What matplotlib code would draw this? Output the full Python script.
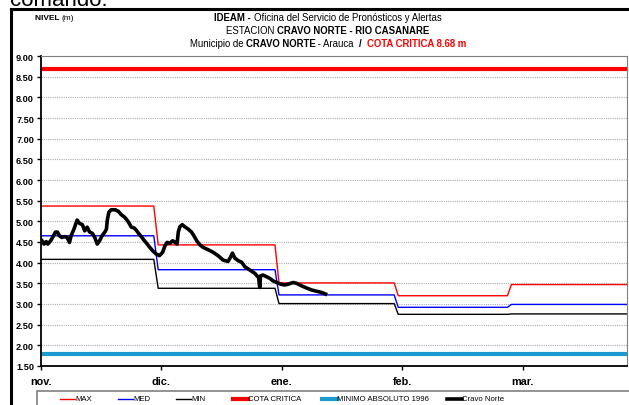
import matplotlib
matplotlib.use("Agg")
import matplotlib.pyplot as plt
from matplotlib.lines import Line2D
from matplotlib.patches import Rectangle

plt.rcParams['font.family'] = ['Liberation Sans', 'DejaVu Sans']

# niveles historicos por mes (escalones)
dias_esc = [0, 28.1, 29.2, 58.3, 59.3, 88.0, 89.0, 116.2, 117.2, 146]
nivel_max = [5.37, 5.37, 4.43, 4.43, 3.51, 3.51, 3.20, 3.20, 3.47, 3.47]
nivel_med = [4.65, 4.65, 3.83, 3.83, 3.22, 3.22, 2.92, 2.92, 2.99, 2.99]
nivel_min = [4.08, 4.08, 3.38, 3.38, 3.01, 3.01, 2.75, 2.75, 2.76, 2.76]
cota_critica = 8.68
minimo_1996 = 1.80

# serie observada Cravo Norte
dias_obs = [0.25, 0.75, 1.3, 1.7, 2.4, 3.0, 3.6, 4.1, 4.6, 5.2, 5.9, 6.5, 7.1, 7.5, 8.2,
            9.0, 9.6, 10.3, 10.9, 11.5, 12.1, 12.8, 13.4, 14.0, 14.6, 15.2, 15.9, 16.3,
            16.5, 16.9, 17.5, 18.5, 19.3, 20.0, 20.7, 21.2, 21.8, 22.5, 23.2, 23.7, 24.3,
            25.0, 25.6, 26.3, 27.1, 27.9, 28.7, 29.5, 30.3, 30.9, 31.4, 32.1, 32.8, 33.4,
            33.9, 34.2, 34.6, 35.2, 35.8, 36.7, 37.5, 38.1, 38.8, 39.6, 40.4, 41.7, 42.9,
            44.1, 45.4, 46.6, 47.2, 47.7, 48.3, 49.1, 50.0, 50.8, 51.6, 52.5, 53.3, 53.8,
            54.2, 54.5, 54.7, 55.3, 56.2, 57.0, 57.8, 58.7, 59.7, 60.7, 61.6, 62.8, 63.7,
            64.9, 66.1, 67.4, 68.6, 69.9, 70.9]
nivel_obs = [4.53, 4.45, 4.51, 4.45, 4.53, 4.63, 4.74, 4.74, 4.65, 4.61, 4.63, 4.61, 4.49,
             4.65, 4.81, 5.03, 4.95, 4.92, 4.77, 4.86, 4.74, 4.71, 4.61, 4.45, 4.53, 4.65,
             4.74, 4.81, 5.02, 5.22, 5.28, 5.28, 5.24, 5.16, 5.11, 5.06, 4.98, 4.86, 4.84,
             4.79, 4.71, 4.63, 4.55, 4.47, 4.37, 4.28, 4.21, 4.17, 4.25, 4.41, 4.49, 4.47,
             4.53, 4.49, 4.45, 4.74, 4.87, 4.92, 4.87, 4.81, 4.74, 4.65, 4.53, 4.43, 4.37,
             4.31, 4.25, 4.17, 4.06, 4.03, 4.13, 4.23, 4.11, 4.05, 4.01, 3.90, 3.85, 3.79,
             3.74, 3.68, 3.65, 3.40, 3.68, 3.70, 3.66, 3.62, 3.56, 3.52, 3.48, 3.46, 3.48,
             3.52, 3.50, 3.44, 3.39, 3.34, 3.31, 3.28, 3.24]

meses = ['nov.', 'dic.', 'ene.', 'feb.', 'mar.']
dias_meses = [0, 30, 60, 90, 120]

W, H = 629, 406
fig = plt.figure(figsize=(W / 100, H / 100), dpi=100)
ax = fig.add_axes([41 / W, 39 / H, 586 / W, 310 / H])

l_max, = ax.plot(dias_esc, nivel_max, color='#ff0000', lw=1, label='MAX')
l_med, = ax.plot(dias_esc, nivel_med, color='#0000ff', lw=1, label='MED')
l_min, = ax.plot(dias_esc, nivel_min, color='#000000', lw=1, label='MIN')
l_cota = ax.axhline(cota_critica, color='#ff0000', lw=3, label='COTA CRITICA')
l_abs = ax.axhline(minimo_1996, color='#1a9bd0', lw=3, label='MINIMO ABSOLUTO 1996')
l_obs, = ax.plot(dias_obs, nivel_obs, color='black', lw=2.6, label='Cravo Norte',
                 solid_joinstyle='round')

ax.set_xlim(0, 146)
ax.set_ylim(1.5, 9.0)
ax.set_yticks([1.5 + 0.5 * i for i in range(16)])
ax.set_yticklabels(['%.2f' % (1.5 + 0.5 * i) for i in range(16)])
ax.set_xticks(dias_meses)
ax.set_xticklabels(meses)
ax.grid(axis='y', color='#b0b0b0', lw=0.8, ls=(0, (1, 1)))
ax.set_axisbelow(True)
ax.tick_params(axis='y', labelsize=6.6, length=3, width=1, pad=2)
ax.tick_params(axis='x', labelsize=7.8, length=3, width=1, pad=4)
for lab in ax.get_yticklabels() + ax.get_xticklabels():
    lab.set_fontweight('bold')
ax.spines['left'].set_linewidth(1.3)
ax.spines['bottom'].set_linewidth(1.3)
ax.spines['top'].set_color('#808080')
ax.spines['right'].set_color('#808080')
ax.spines['top'].set_linewidth(0.8)
ax.spines['right'].set_linewidth(0.8)

# marco exterior
fig.add_artist(Line2D([11 / W, 11 / W], [0, 1 - 10 / H], color='black', lw=2.2))
fig.add_artist(Line2D([11 / W, 1], [1 - 10 / H, 1 - 10 / H], color='black', lw=2.2))
fig.text(10 / W, 1 - 6 / H, 'comando.', fontsize=16, va='baseline', ha='left')

renderer = fig.canvas.get_renderer()


def fila(x, y, partes, size, centrado=True):
    # texto en una sola linea con partes en negrita o en color
    objs = []
    for txt, peso, color in partes:
        objs.append(fig.text(0, y, txt, fontsize=size, fontweight=peso, color=color,
                             va='center', ha='left'))
    anchos = [o.get_window_extent(renderer).width / W for o in objs]
    if centrado:
        x = x - sum(anchos) / 2
    for o, w in zip(objs, anchos):
        o.set_x(x)
        x += w


fila(328 / W, 1 - 18 / H, [('IDEAM - ', 'bold', 'black'),
                           ('Oficina del Servicio de Pronósticos y Alertas', 'normal', 'black')],
     6.9)
fila(328 / W, 1 - 31 / H, [('ESTACION ', 'normal', 'black'),
                           ('CRAVO NORTE - RIO CASANARE', 'bold', 'black')], 6.9)
fila(328 / W, 1 - 44 / H, [('Municipio de ', 'normal', 'black'),
                           ('CRAVO NORTE', 'bold', 'black'),
                           (' - Arauca  ', 'normal', 'black'),
                           ('/  ', 'bold', 'black'),
                           ('COTA CRITICA 8.68 m', 'bold', '#ff0000')], 6.9)
fila(35 / W, 1 - 18 / H, [('NIVEL ', 'bold', 'black'), ('(m)', 'normal', 'black')],
     6.0, centrado=False)

# leyenda dibujada a mano bajo el eje
fig.add_artist(Rectangle((37 / W, -0.05), 1, 0.05 + 14 / H, transform=fig.transFigure,
                         fill=False, ec='#808080', lw=1.2))
x_leyenda = [60, 118, 176, 233, 322, 447]
y_ley = 1 - 400 / H
for h, x0 in zip([l_max, l_med, l_min, l_cota, l_abs, l_obs], x_leyenda):
    fig.add_artist(Line2D([x0 / W, (x0 + 15) / W], [y_ley, y_ley], color=h.get_color(),
                          lw=h.get_linewidth()))
    fig.text((x0 + 15) / W, y_ley, h.get_label(), fontsize=5.6, va='center', ha='left')

fig.savefig('out.png', dpi=100)
